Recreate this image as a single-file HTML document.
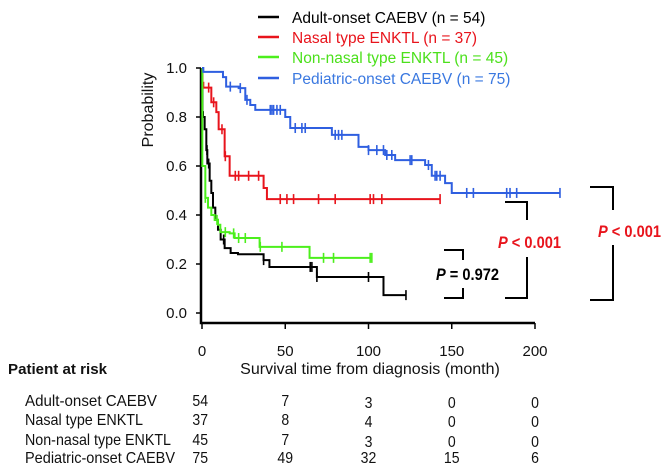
<!DOCTYPE html>
<html><head><meta charset="utf-8"><style>
body{margin:0;background:#fff;}
svg{display:block;font-family:"Liberation Sans",sans-serif;}
</style></head><body>
<svg id="chart" width="671" height="476" viewBox="0 0 671 476"></svg>
<script>
const xTicks=[0,50,100,150,200];
const yTicks=[0.0,0.2,0.4,0.6,0.8,1.0];
const seriesNames=["Adult-onset CAEBV (n = 54)","Nasal type ENKTL (n = 37)","Non-nasal type ENKTL (n = 45)","Pediatric-onset CAEBV (n = 75)"];
const adultT=[0,0.3,0.6,1.6,2.6,3.2,4.6,5.6,6.6,8,9.6,11.2,13.6,17.2,21.6,37,40.5,69,109,122.5];
const adultS=[1,0.82,0.8,0.75,0.665,0.61,0.54,0.49,0.43,0.38,0.34,0.3,0.265,0.245,0.24,0.216,0.188,0.147,0.073,0.073];
const nasalT=[0,0.3,0.8,5.6,8.6,10,13.6,16.6,37,39,143];
const nasalS=[1,0.94,0.92,0.86,0.82,0.75,0.64,0.56,0.51,0.465,0.465];
const nonnasalT=[0,0.2,0.6,2,3.6,5.6,7.6,9.6,11,16.6,19.6,34.6,64.6,101.6];
const nonnasalS=[1,0.6,0.6,0.47,0.43,0.4,0.38,0.36,0.33,0.325,0.306,0.27,0.225,0.225];
const pedT=[0,0.8,12.6,14.5,22,26,29,32,50,53,78,94,100,110,116,134,138,146,150,215];
const pedS=[1,0.984,0.963,0.924,0.918,0.87,0.849,0.829,0.8,0.755,0.727,0.678,0.665,0.645,0.624,0.604,0.56,0.53,0.49,0.49];
const adultC=[3,4,13,37,65,66,69,100,122.5];
const nasalC=[4,7,12,14,20,22,28,34,47,51,55,70,80,101,103,108,143];
const nonnasalC=[2,9,14,19,22,26,35,48,73,79,101,102];
const pedC=[17,23,27,41,42,43,45,47,56,60,62,80,82,84,100,105,109,111,114,125,126,136,140,141,143,159,163,183,185,189,215];
const riskRows=["Adult-onset CAEBV","Nasal type ENKTL","Non-nasal type ENKTL","Pediatric-onset CAEBV"];
const riskAdult=[54,7,3,0,0];
const riskNasal=[37,8,4,0,0];
const riskNonnasal=[45,7,3,0,0];
const riskPed=[75,49,32,15,6];

const NS="http://www.w3.org/2000/svg";
const svg=document.getElementById('chart');
const X=m=>202+m*1.665;
const Y=p=>313-p*245;
function mk(tag,attrs,parent){const e=document.createElementNS(NS,tag);for(const k in attrs)e.setAttribute(k,attrs[k]);(parent||svg).appendChild(e);return e;}
function txt(s,x,y,opts){const e=mk('text',Object.assign({x:x,y:y,'font-size':14,fill:'#111'},opts||{}));e.textContent=s;return e;}

let ax=mk('path',{d:`M201,${Y(1)} V323 H${X(200)}`,stroke:'#000','stroke-width':2.5,fill:'none'});


yTicks.forEach(v=>{
  let t=mk('line',{x1:196,x2:201,y1:Y(v),y2:Y(v),stroke:'#000','stroke-width':1.5});
  
  
  let l=txt(v.toFixed(1),187,Y(v)+5,{'text-anchor':'end','font-size':15});
  
  
});
xTicks.forEach(v=>{
  let t=mk('line',{x1:X(v),x2:X(v),y1:323,y2:329,stroke:'#000','stroke-width':1.5});
  
  
  let l=txt(String(v),X(v),356,{'text-anchor':'middle','font-size':15});
  
  
});
let yt=txt('Probability',0,0,{'font-size':16,'text-anchor':'middle',transform:'translate(153,110) rotate(-90)'});


let xt=txt('Survival time from diagnosis (month)',370,374,{'font-size':16,'text-anchor':'middle'});



const colors=['#000','#e8141c','#4cef1c','#2f5fe0'];
const data=[[adultT,adultS,adultC,'adult-onset-curve'],[nasalT,nasalS,nasalC,'nasal-enktl-curve'],[nonnasalT,nonnasalS,nonnasalC,'non-nasal-enktl-curve'],[pedT,pedS,pedC,'pediatric-onset-curve']];
function survAt(T,S,m){let s=S[0];for(let i=0;i<T.length;i++){if(T[i]<=m)s=S[i];}return s;}
data.forEach((d,k)=>{
  const [T,S,C,name]=d;
  let p=`M${X(T[0])},${Y(S[0])}`;
  for(let i=1;i<T.length;i++){p+=` H${X(T[i])} V${Y(S[i])}`;}
  let g=mk('g',{});
  
  
  mk('path',{d:p,stroke:colors[k],'stroke-width':2,fill:'none'},g);
  C.forEach(c=>{
    const s=survAt(T,S,c);
    let m=mk('line',{x1:X(c),x2:X(c),y1:Y(s)-5,y2:Y(s)+5,stroke:colors[k],'stroke-width':1.6},g);
    
    
  });
});

seriesNames.forEach((n,i)=>{
  const y=[17,37,57,78][i];
  let g=mk('g',{});
  
  
  mk('line',{x1:258,x2:279,y1:y,y2:y,stroke:colors[i],'stroke-width':2.5},g);
  const tc=['#000','#e8141c','#4ce01c','#3a78e0'][i];
  const t=mk('text',{x:292,y:y+6,'font-size':15.5,fill:tc},g);t.textContent=n;
});

function bracket(x1,x2,y1,y2,g1,g2,name){let b=mk('path',{d:`M${x1},${y1} H${x2} V${g1} M${x2},${g2} V${y2} H${x1}`,stroke:'#000','stroke-width':2,fill:'none'});
  }
bracket(444,463,250,298,260,288,'bracket-p0972');
bracket(505,527,202,298,220,257,'bracket-nasal');
bracket(590,613,187,300,210,245,'bracket-pediatric');
function ptext(x,y,w,rest,color,name){const t=mk('text',{x:x,y:y,'font-size':17,'font-weight':'bold',fill:color,textLength:w,lengthAdjust:'spacingAndGlyphs'});
  
  const a=document.createElementNS(NS,'tspan');a.setAttribute('font-style','italic');a.textContent='P';t.appendChild(a);
  const b=document.createElementNS(NS,'tspan');b.textContent=rest;t.appendChild(b);}
ptext(436,280,63,' = 0.972','#000','p-value-adult-vs-nonnasal');
ptext(498,248,63,' < 0.001','#e8141c','p-value-nasal');
ptext(598,237,63,' < 0.001','#e8141c','p-value-pediatric');

let h=txt('Patient at risk',8,374,{'font-weight':'bold','font-size':15,textLength:99,lengthAdjust:'spacingAndGlyphs'});


const riskVals=[riskAdult,riskNasal,riskNonnasal,riskPed];
const lblW=[132,118,146,150];
riskRows.forEach((r,i)=>{
  const y=[406,425,445,463][i];
  let l=txt(r,25,y,{'font-size':16,textLength:lblW[i],lengthAdjust:'spacingAndGlyphs'});
  
  
  riskVals[i].forEach((v,j)=>{
    let n=txt(String(v),X(xTicks[j])+(j==0?-2:0),y+(j>1&&i<3?2:0),{'font-size':16,'text-anchor':'middle',transform:`translate(${X(xTicks[j])},0) scale(0.88,1) translate(${-X(xTicks[j])},0)`});
    
    
  });
});
</script>
</body></html>
